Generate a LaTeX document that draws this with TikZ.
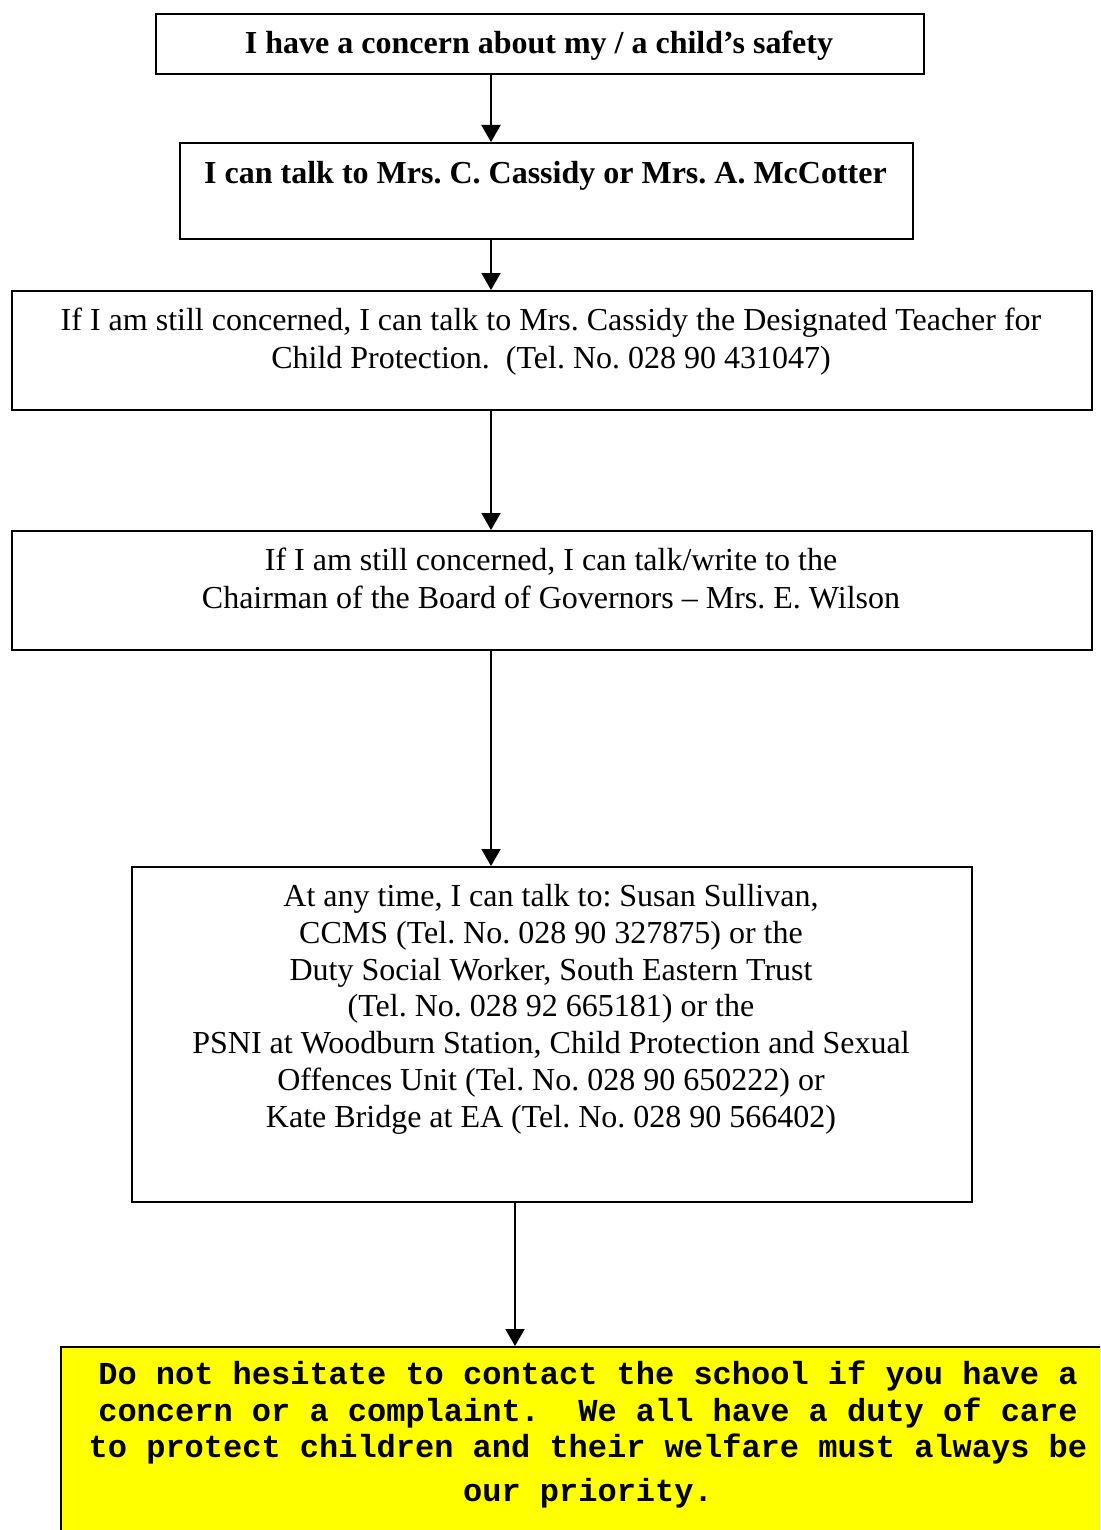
\documentclass[tikz,border=0pt]{standalone}
\usepackage{fontspec}
\setmainfont{Liberation Serif}
\newfontfamily\monob{Liberation Mono}[BoldFont=* Bold]
\usetikzlibrary{arrows.meta}
\definecolor{brightyellow}{RGB}{255,255,0}
\frenchspacing
\tikzset{
  box/.style={draw=black, line width=2pt, fill=white},
  ybox/.style={draw=black, line width=2pt, fill=brightyellow},
  txt/.style={inner sep=0pt, align=center, font=\fontsize{32}{37}\selectfont},
  btxt/.style={txt, font=\fontsize{32}{37}\selectfont\bfseries},
  mtxt/.style={inner sep=0pt, align=center, font=\fontsize{32}{37}\selectfont\monob\bfseries},
  arr/.style={line width=2pt, -{Triangle[width=19pt,length=17pt]}}
}
\begin{document}
\begin{tikzpicture}[x=1pt,y=-1pt]
\useasboundingbox (0,0) rectangle (1100,1530);
\clip (0,0) rectangle (1100,1530);
\coordinate (ca) at (491,0);
\coordinate (cb) at (515,0);
% boxes
\node[box, minimum width=768pt, minimum height=60pt, anchor=north west] (b1) at (155,13) {};
\node[box, minimum width=733pt, minimum height=96pt, anchor=north west] (b2) at (179,142) {};
\node[box, minimum width=1080pt, minimum height=119pt, anchor=north west] (b3) at (11,290) {};
\node[box, minimum width=1080pt, minimum height=119pt, anchor=north west] (b4) at (11,530) {};
\node[box, minimum width=840pt, minimum height=335pt, anchor=north west] (b5) at (131,866) {};
\node[ybox, minimum width=1056pt, minimum height=200pt, anchor=north west] (b6) at (60,1346) {};
% texts
\node[btxt, anchor=base] (t1) at (539,54) {I have a concern about my / a child’s safety};
\node[btxt, anchor=base] (t2) at (545.5,184) {I can talk to Mrs. C. Cassidy or Mrs. A. McCotter};
\node[txt, anchor=base] (t3a) at (551,330) {If I am still concerned, I can talk to Mrs. Cassidy the Designated Teacher for};
\node[txt, anchor=base] (t3b) at (551,368) {Child Protection.\ \ (Tel. No. 028 90 431047)};
\node[txt, anchor=base] (t4a) at (551,570) {If I am still concerned, I can talk/write to the};
\node[txt, anchor=base] (t4b) at (551,608) {Chairman of the Board of Governors – Mrs. E. Wilson};
\node[txt, anchor=base] (t5a) at (551,906) {At any time, I can talk to: Susan Sullivan,};
\node[txt, anchor=base] (t5b) at (551,943) {CCMS (Tel. No. 028 90 327875) or the};
\node[txt, anchor=base] (t5c) at (551,980) {Duty Social Worker, South Eastern Trust};
\node[txt, anchor=base] (t5d) at (551,1016) {(Tel. No. 028 92 665181) or the};
\node[txt, anchor=base] (t5e) at (551,1053) {PSNI at Woodburn Station, Child Protection and Sexual};
\node[txt, anchor=base] (t5f) at (551,1090) {Offences Unit (Tel. No. 028 90 650222) or};
\node[txt, anchor=base] (t5g) at (551,1127) {Kate Bridge at EA (Tel. No. 028 90 566402)};
\node[mtxt, anchor=base] (t6a) at (588,1384) {Do not hesitate to contact the school if you have a};
\node[mtxt, anchor=base] (t6b) at (588,1421) {concern or a complaint.\ \ We all have a duty of care};
\node[mtxt, anchor=base] (t6c) at (588,1457) {to protect children and their welfare must always be};
\node[mtxt, anchor=base] (t6d) at (588,1501) {our priority.};
% arrows
\draw[arr] (b1.south -| ca) -- (b2.north -| ca);
\draw[arr] (b2.south -| ca) -- (b3.north -| ca);
\draw[arr] (b3.south -| ca) -- (b4.north -| ca);
\draw[arr] (b4.south -| ca) -- (b5.north -| ca);
\draw[arr] (b5.south -| cb) -- (b6.north -| cb);
\end{tikzpicture}
\end{document}
